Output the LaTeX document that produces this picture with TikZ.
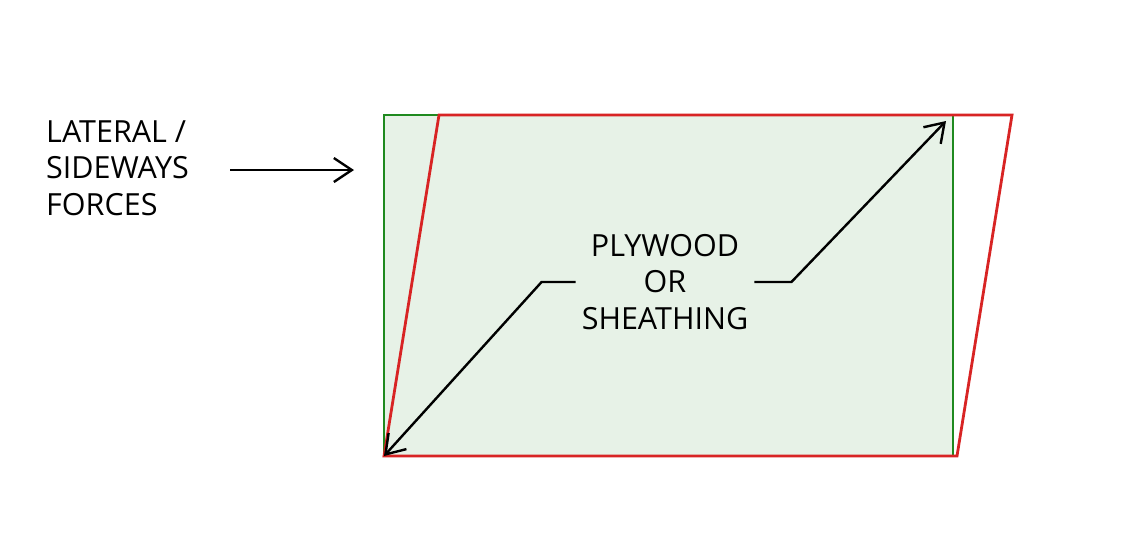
\documentclass[tikz,border=0pt]{standalone}
\usepackage{fontspec}
\setmainfont{Open Sans}
\usetikzlibrary{arrows.meta}
\definecolor{panelfill}{HTML}{E7F2E7}
\definecolor{greenedge}{HTML}{1F8A1F}
\definecolor{rededge}{HTML}{D82424}
\tikzset{
  lbl/.style={font=\fontsize{30.5}{36.5}\selectfont, text=black, inner sep=6pt},
  conn/.style={draw=black, line width=2.4pt, line join=miter, -{Straight Barb[length=18pt,width=24pt,line width=2.4pt]}},
  greenline/.style={draw=greenedge, line width=2.8pt},
  redline/.style={draw=rededge, line width=2.8pt, line join=miter}
}
\begin{document}
\begin{tikzpicture}[x=1pt,y=-1pt]
\useasboundingbox[fill=white] (0,0) rectangle (1134,547);
% panel corners
\coordinate (BL) at (384,456);
\coordinate (GTL) at (384,115);
\coordinate (GTR) at (953,115);
\coordinate (GBR) at (953,456);
\coordinate (RTL) at (439,115);
\coordinate (RTR) at (1012,115);
\coordinate (RBR) at (957,456);
\coordinate (tipTR) at (946,121);
% fill and outlines
\fill[panelfill] (GTL) rectangle (GBR);
\draw[greenline] (BL) -- (GTL) -- (GTR) -- (GBR);
\draw[redline] (BL) -- (RTL) -- (RTR) -- (RBR) -- cycle;
% labels
\node[lbl, anchor=west, align=left] (forces) at (40,168) {LATERAL /\\SIDEWAYS\\FORCES};
\node[lbl, align=center] (ply) at (665,282) {PLYWOOD\\OR\\SHEATHING};
% force arrow
\coordinate (fstart) at (230,170);
\coordinate (fend) at (354,170);
\draw[conn] (fstart) -- (fend);
% diagonal arrows
\draw[conn] (ply.west) -- ++(-34,0) -- (BL);
\draw[conn] (ply.east) -- ++(37,0) -- (tipTR);
\end{tikzpicture}
\end{document}
